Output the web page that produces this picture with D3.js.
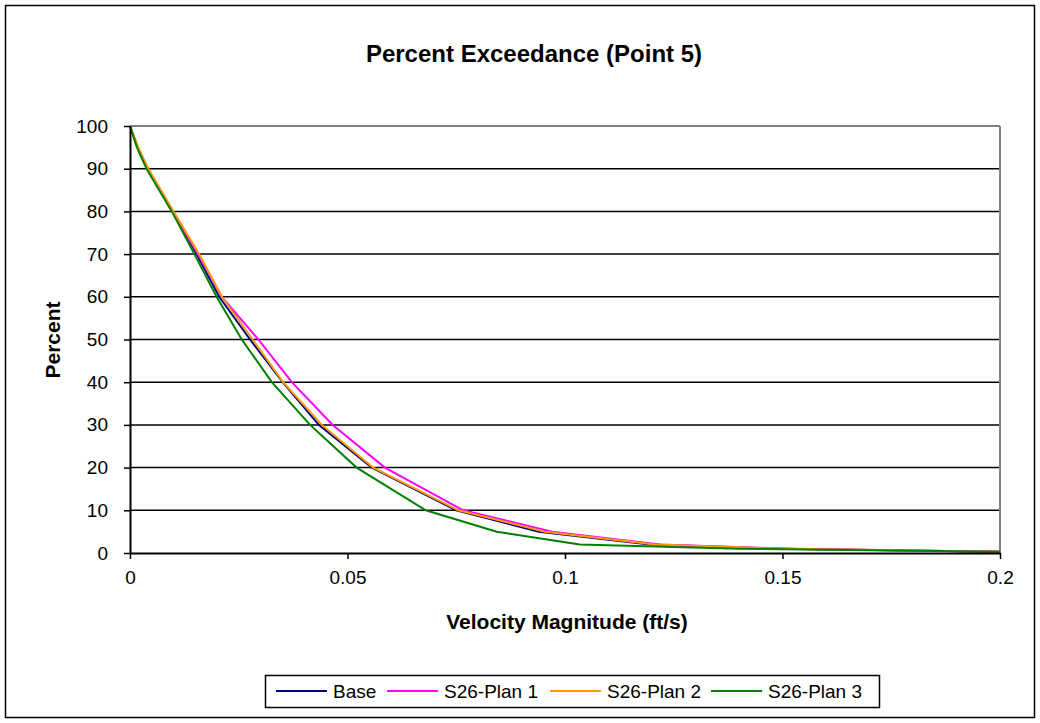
<!DOCTYPE html>
<html><head><meta charset="utf-8">
<script src="https://cdn.jsdelivr.net/npm/d3@7"></script>
<style>body{margin:0;background:#fff}svg{display:block}text{font-family:"Liberation Sans",Arial,sans-serif}</style>
</head><body>
<script>
const percents = [100, 95, 90, 80, 70, 60, 50, 40, 30, 20, 10, 5, 2, 1, 0.3];
const baseVel  = [0, 0.0017, 0.0040, 0.0098, 0.0153, 0.0205, 0.0276, 0.0351, 0.0434, 0.0556, 0.0750, 0.0940, 0.1195, 0.1500, 0.2];
const plan1Vel = [0, 0.0018, 0.0041, 0.0099, 0.0156, 0.0211, 0.0295, 0.0372, 0.0466, 0.0586, 0.0766, 0.0970, 0.1218, 0.1517, 0.2];
const plan2Vel = [0, 0.0019, 0.0042, 0.0100, 0.0159, 0.0211, 0.0282, 0.0352, 0.0441, 0.0559, 0.0755, 0.0954, 0.1207, 0.1506, 0.2];
const plan3Vel = [0, 0.0016, 0.0038, 0.0096, 0.0148, 0.0199, 0.0257, 0.0326, 0.0414, 0.0521, 0.0680, 0.0843, 0.1034, 0.1400, 0.2];
const seriesNames = ["Base", "S26-Plan 1", "S26-Plan 2", "S26-Plan 3"];
const seriesColors = ["#000080", "#FF00FF", "#FF9900", "#008000"];
const xTicks = [0, 0.05, 0.1, 0.15, 0.2];
const yTicks = [0, 10, 20, 30, 40, 50, 60, 70, 80, 90, 100];

const W = 1040, H = 723;
const svg = d3.select("body").append("svg").attr("width", W).attr("height", H);
svg.append("rect").attr("x", 5.5).attr("y", 5.5).attr("width", 1029).attr("height", 712)
  .attr("fill", "#fff").attr("stroke", "#000").attr("stroke-width", 1.5);

const x = d3.scaleLinear().domain([0, 0.2]).range([130, 1000]);
const y = d3.scaleLinear().domain([0, 100]).range([553, 126]);

// gridlines
svg.append("g").selectAll("line").data(yTicks.filter(d => d > 0 && d < 100)).join("line")
  .attr("x1", x(0)).attr("x2", x(0.2)).attr("y1", d => y(d)).attr("y2", d => y(d))
  .attr("stroke", "#000").attr("stroke-width", 1.5);
// plot border top/right gray
svg.append("line").attr("x1", x(0)).attr("x2", x(0.2)).attr("y1", y(100)).attr("y2", y(100)).attr("stroke", "#808080").attr("stroke-width", 2);
svg.append("line").attr("x1", x(0.2)).attr("x2", x(0.2)).attr("y1", y(100)).attr("y2", y(0)).attr("stroke", "#808080").attr("stroke-width", 2);

// series
const allVel = [baseVel, plan1Vel, plan2Vel, plan3Vel];
const line = d3.line().x(d => x(d[0])).y(d => y(d[1]));
allVel.forEach((vals, i) => {
  svg.append("path").datum(vals.map((v, j) => [v, percents[j]]))
    .attr("d", line).attr("fill", "none").attr("stroke", seriesColors[i]).attr("stroke-width", 2);
});

// axes
const xAxis = d3.axisBottom(x).tickValues(xTicks).tickFormat(d => String(d)).tickSizeOuter(0).tickSizeInner(6).tickPadding(12);
const gx = svg.append("g").attr("transform", `translate(0,${y(0)})`).call(xAxis);
const yAxis = d3.axisLeft(y).tickValues(yTicks).tickFormat(d => String(d)).tickSizeOuter(0).tickSizeInner(6).tickPadding(16);
const gy = svg.append("g").attr("transform", `translate(${x(0)},0)`).call(yAxis);
[gx, gy].forEach(g => {
  g.select(".domain").attr("stroke", "#000").attr("stroke-width", 2);
  g.selectAll(".tick line").attr("stroke", "#000").attr("stroke-width", 1.5);
  g.selectAll("text").attr("font-size", 19).attr("fill", "#000").attr("font-family", "Liberation Sans, Arial, sans-serif");
});

// titles
svg.append("text").attr("x", 534).attr("y", 62).attr("text-anchor", "middle")
  .attr("font-size", 24).attr("font-weight", "bold").text("Percent Exceedance  (Point 5)");
svg.append("text").attr("x", 567).attr("y", 629).attr("text-anchor", "middle")
  .attr("font-size", 21).attr("font-weight", "bold").text("Velocity Magnitude (ft/s)");
svg.append("text").attr("transform", "translate(60,340) rotate(-90)").attr("text-anchor", "middle")
  .attr("font-size", 21).attr("font-weight", "bold").text("Percent");

// legend
const lg = svg.append("g");
lg.append("rect").attr("x", 265.5).attr("y", 675.5).attr("width", 614).attr("height", 32)
  .attr("fill", "#fff").attr("stroke", "#000").attr("stroke-width", 1.5);
const lx = [276, 387, 550, 711];
seriesNames.forEach((n, i) => {
  lg.append("line").attr("x1", lx[i]).attr("x2", lx[i] + 51).attr("y1", 691).attr("y2", 691)
    .attr("stroke", seriesColors[i]).attr("stroke-width", 2);
  lg.append("text").attr("x", lx[i] + 57).attr("y", 698).attr("font-size", 19).text(n);
});
</script>
</body></html>
